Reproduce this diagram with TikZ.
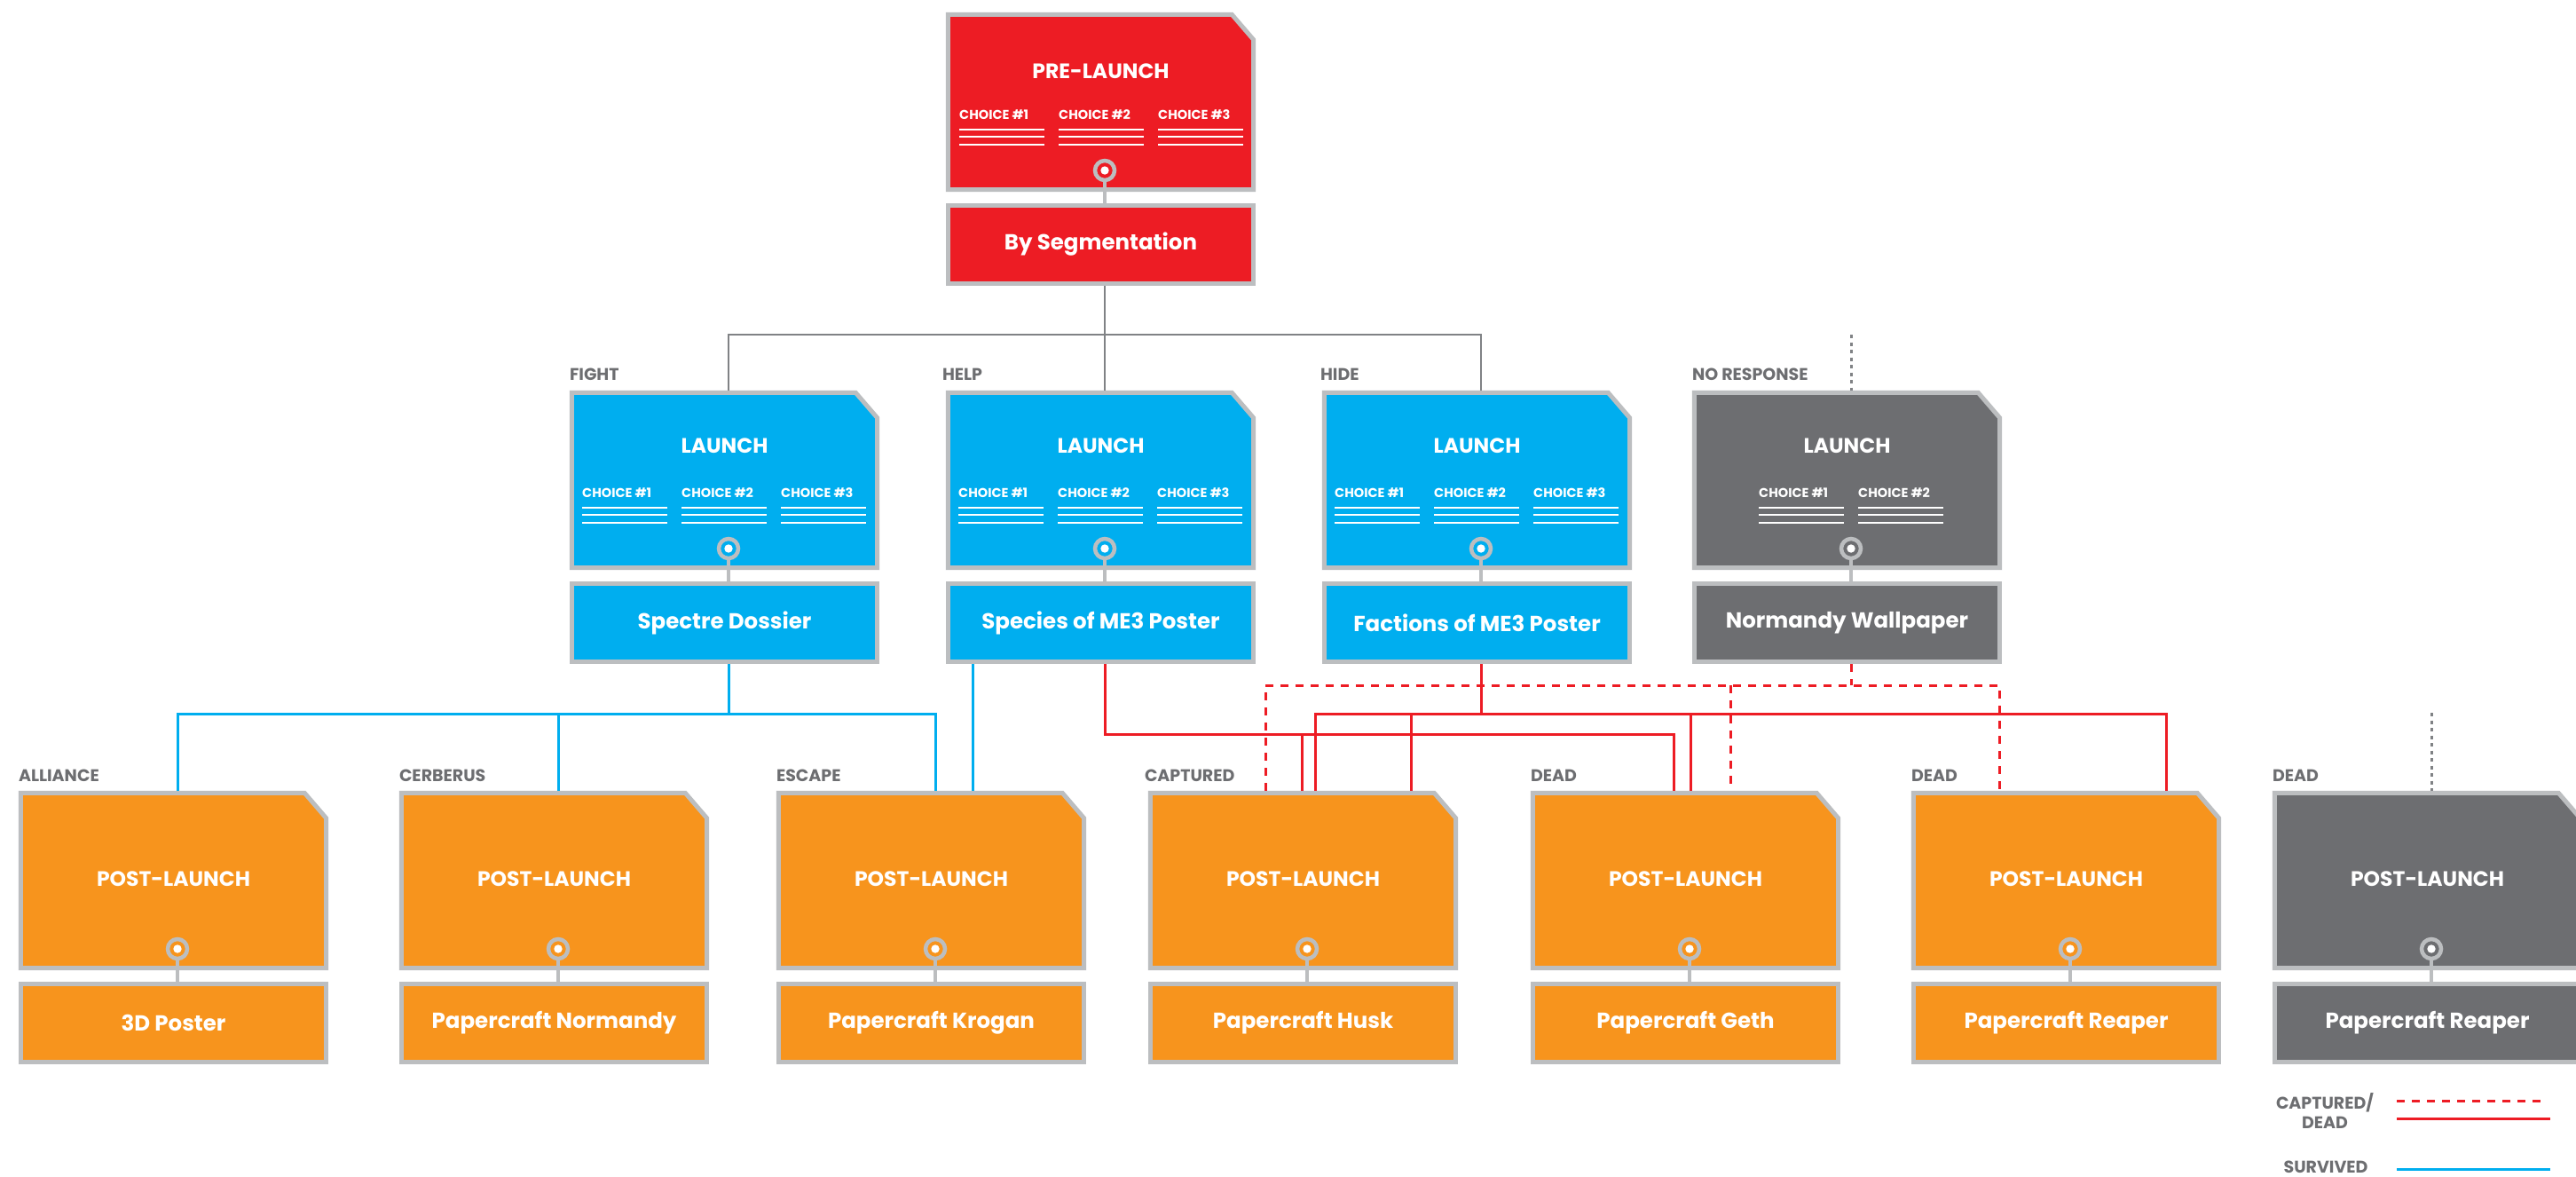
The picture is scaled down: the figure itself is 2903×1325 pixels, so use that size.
\documentclass[tikz,border=0pt]{standalone}
\usepackage{fontspec}
\setmainfont{Poppins}
\usetikzlibrary{calc}
\definecolor{mered}{HTML}{ED1C24}
\definecolor{meblue}{HTML}{00AEEF}
\definecolor{meorange}{HTML}{F7941D}
\definecolor{medark}{HTML}{6D6E71}
\definecolor{meborder}{HTML}{BCBEC0}
\definecolor{meline}{HTML}{808285}
\definecolor{melabel}{HTML}{6D6E71}
\tikzset{
  meframe/.style={draw=meborder, line width=5pt},
  mering/.style={circle, draw=meborder, line width=4.5pt, minimum size=22pt, inner sep=0pt},
  lowbox/.style={draw=meborder, line width=5pt, minimum width=344pt, minimum height=88pt, inner sep=0pt, text=white, font=\fontsize{24.5}{28}\selectfont\bfseries},
  ttl/.style={text=white, inner sep=0pt, font=\fontsize{23.5}{26}\selectfont\bfseries},
  mechoice/.style={text=white, inner sep=0pt, font=\fontsize{14.5}{16}\selectfont\bfseries},
  lbl/.style={text=melabel, inner sep=0pt, font=\fontsize{19}{22}\selectfont\bfseries},
  stem/.style={draw=meborder, line width=4pt},
  gline/.style={draw=meline, line width=2.5pt},
  gdot/.style={draw=meline, line width=3pt, dash pattern=on 4pt off 4.5pt},
  bline/.style={draw=meblue, line width=3pt},
  rline/.style={draw=mered, line width=3pt},
  rdash/.style={draw=mered, line width=3pt, dash pattern=on 9pt off 8pt},
}
\newcommand{\MEbox}[7]{%
  \node[inner sep=0pt, minimum width=349pt, minimum height=202pt] (#1) at (#2-4.5,#3+101) {};
  \draw[meframe, fill=#4] ([shift={(2.5,2.5)}]#1.north west) -- ([shift={(-27,2.5)}]#1.north east) -- ([shift={(-2.5,31)}]#1.north east) -- ([shift={(-2.5,-2.5)}]#1.south east) -- ([shift={(2.5,-2.5)}]#1.south west) -- cycle;
  \node[ttl] (#1-t) at (#2-4.5,#3+#6) {#5};
  \node[mering, fill=#4] (#1-c) at (#2,#3+178) {};
  \fill[white] (#1-c.center) circle (4.7);
  \node[lowbox, fill=#4] (#1-b) at (#2-4.5,#3+261.5) {\raisebox{-2pt}{#7}};
  \draw[stem] (#1-c.south) -- (#1-c |- #1-b.north);
}
\newcommand{\MEchoice}[4]{%
  \node[mechoice, anchor=west] (#1) at (#2,#3+115) {#4};
  \foreach \yy in {132,140,149} {\draw[white, line width=1.8pt] (#2,#3+\yy) -- ++(96,0);}
}
\begin{document}
\begin{tikzpicture}[x=1pt,y=-1pt]
\useasboundingbox (0,0) rectangle (2903,1325);
\fill[white] (0,0) rectangle (2903,1325);

% ---------- top ----------
\MEbox{top}{1245}{14}{mered}{PRE-LAUNCH}{66}{By Segmentation}
\MEchoice{top-ch1}{1245-164}{14}{CHOICE \#1}
\MEchoice{top-ch2}{1245-52}{14}{CHOICE \#2}
\MEchoice{top-ch3}{1245+60}{14}{CHOICE \#3}

% ---------- row 1 ----------
\MEbox{fight}{821}{440}{meblue}{LAUNCH}{62}{Spectre Dossier}
\MEchoice{fight-ch1}{821-165}{440}{CHOICE \#1}
\MEchoice{fight-ch2}{821-53}{440}{CHOICE \#2}
\MEchoice{fight-ch3}{821+59}{440}{CHOICE \#3}
\MEbox{help}{1245}{440}{meblue}{LAUNCH}{62}{Species of ME3 Poster}
\MEchoice{help-ch1}{1245-165}{440}{CHOICE \#1}
\MEchoice{help-ch2}{1245-53}{440}{CHOICE \#2}
\MEchoice{help-ch3}{1245+59}{440}{CHOICE \#3}
\MEbox{hide}{1669}{440}{meblue}{LAUNCH}{62}{Factions of ME3 Poster}
\MEchoice{hide-ch1}{1669-165}{440}{CHOICE \#1}
\MEchoice{hide-ch2}{1669-53}{440}{CHOICE \#2}
\MEchoice{hide-ch3}{1669+59}{440}{CHOICE \#3}
\MEbox{noresp}{2086}{440}{medark}{LAUNCH}{62}{Normandy Wallpaper}
\MEchoice{noresp-ch1}{2086-104}{440}{CHOICE \#1}
\MEchoice{noresp-ch2}{2086+8}{440}{CHOICE \#2}

\node[lbl, anchor=west] (fight-l) at ([shift={(0,-18)}]fight.north west) {FIGHT};
\node[lbl, anchor=west] (help-l) at ([shift={(-4,-18)}]help.north west) {HELP};
\node[lbl, anchor=west] (hide-l) at ([shift={(-2,-18)}]hide.north west) {HIDE};
\node[lbl, anchor=west] (noresp-l) at ([shift={(0,-18)}]noresp.north west) {NO RESPONSE};

% ---------- row 2 ----------
\MEbox{alliance}{200}{891}{meorange}{POST-LAUNCH}{99}{3D Poster}
\MEbox{cerberus}{629}{891}{meorange}{POST-LAUNCH}{99}{Papercraft Normandy}
\MEbox{escape}{1054}{891}{meorange}{POST-LAUNCH}{99}{Papercraft Krogan}
\MEbox{captured}{1473}{891}{meorange}{POST-LAUNCH}{99}{Papercraft Husk}
\MEbox{dead1}{1904}{891}{meorange}{POST-LAUNCH}{99}{Papercraft Geth}
\MEbox{reaper}{2333}{891}{meorange}{POST-LAUNCH}{99}{Papercraft Reaper}
\MEbox{deadg}{2740}{891}{medark}{POST-LAUNCH}{99}{Papercraft Reaper}

\node[lbl, anchor=west] (alliance-l) at ([shift={(0,-17)}]alliance.north west) {ALLIANCE};
\node[lbl, anchor=west] (cerberus-l) at ([shift={(0,-17)}]cerberus.north west) {CERBERUS};
\node[lbl, anchor=west] (escape-l) at ([shift={(0,-17)}]escape.north west) {ESCAPE};
\node[lbl, anchor=west] (captured-l) at ([shift={(-4,-17)}]captured.north west) {CAPTURED};
\node[lbl, anchor=west] (dead1-l) at ([shift={(0,-17)}]dead1.north west) {DEAD};
\node[lbl, anchor=west] (reaper-l) at ([shift={(0,-17)}]reaper.north west) {DEAD};
\node[lbl, anchor=west] (deadg-l) at ([shift={(0,-17)}]deadg.north west) {DEAD};

% ---------- gray connectors ----------
\coordinate (gj) at (1245,377);
\draw[gline] (gj |- top-b.south) -- (gj |- help.north);
\draw[gline] (fight-c |- fight.north) |- (gj) -| (hide-c |- hide.north);
\draw[gdot] (noresp-c |- gj) -- (noresp-c |- noresp.north);
\coordinate (dgtop) at (2740,803);
\draw[gdot] (dgtop) -- (deadg-c |- deadg.north);

% ---------- blue connectors ----------
\coordinate (bj) at (821,804);
\draw[bline] (fight-c |- fight-b.south) -- (bj);
\draw[bline] (alliance-c |- alliance.north) |- (bj) -| (escape-c |- escape.north);
\draw[bline] (cerberus-c |- bj) -- (cerberus-c |- cerberus.north);
\coordinate (hb) at (1096,0);
\draw[bline] (hb |- help-b.south) -- (hb |- escape.north);

% ---------- red connectors ----------
\coordinate (xca) at (1467,0);
\coordinate (xcb) at (1482,0);
\coordinate (xcc) at (1590,0);
\coordinate (xcd) at (1426,0);
\coordinate (xda) at (1886,0);
\coordinate (xdb) at (1905,0);
\coordinate (xdc) at (1950,0);
\coordinate (xra) at (2441,0);
\coordinate (xrb) at (2253,0);
\coordinate (r2) at (1245,827);
\coordinate (r1) at (1669,804);
\coordinate (rd) at (2086,772);
\draw[rline] (help-c |- help-b.south) -- (r2) -| (xda |- dead1.north);
\draw[rline] (xca |- r2) -- (xca |- captured.north);
\draw[rline] (hide-c |- hide-b.south) -- (r1);
\draw[rline] (xcb |- captured.north) |- (r1) -| (xra |- reaper.north);
\draw[rline] (xcc |- r1) -- (xcc |- captured.north);
\draw[rline] (xdb |- r1) -- (xdb |- dead1.north);
\draw[rdash] (noresp-c |- noresp-b.south) -- (rd);
\draw[rdash] (xcd |- captured.north) |- (rd) -| (xrb |- reaper.north);
\draw[rdash] (xdc |- rd) -- (xdc |- dead1.north);

% ---------- legend ----------
\node[lbl, align=center] (leg1) at (2620,1251) {CAPTURED/\\DEAD};
\node[lbl] (leg2) at (2621,1315) {SURVIVED};
\draw[rdash] (2701,1240) -- (2870,1240);
\draw[rline] (2701,1260) -- (2874,1260);
\draw[bline] (2701,1317) -- (2874,1317);
\end{tikzpicture}
\end{document}
